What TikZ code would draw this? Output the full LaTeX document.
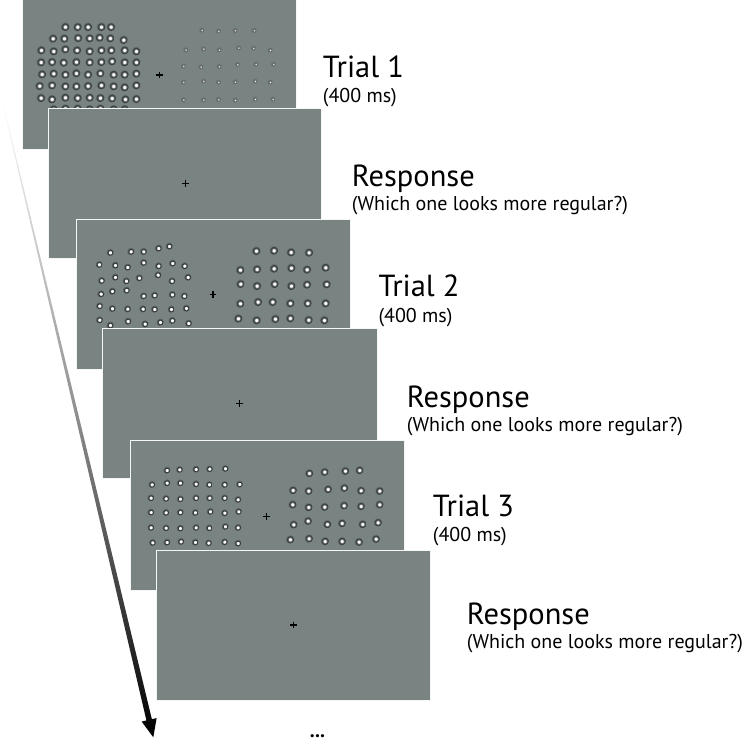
\documentclass[tikz,border=0pt]{standalone}
\usepackage{fontspec}
\setmainfont{PT Sans}
\definecolor{bgc}{RGB}{121,131,130}
\definecolor{ringc}{RGB}{48,54,54}
\pgfdeclareradialshading{dotsh}{\pgfpoint{0bp}{0bp}}{color(0bp)=(white); color(8bp)=(white); color(13bp)=(ringc); color(17bp)=(ringc); color(25bp)=(bgc); color(50bp)=(bgc)}
\tikzset{
  screen/.style={fill=bgc, draw=white!92!bgc, line width=0.9pt},
  fix/.style={draw=black, line width=1.1pt},
  title/.style={anchor=base west, inner sep=0pt, font=\fontsize{30.5}{30.5}\selectfont},
  subt/.style={anchor=base west, inner sep=0pt, font=\fontsize{20}{20}\selectfont},
}
\newcommand\stimdots[2]{\foreach \px/\py in {#2} {\shade[shading=dotsh] (\px,\py) circle (#1);}}
\newcommand\fixat[2]{\draw[fix] (#1,#2) +(-3.4,0) -- +(3.4,0) +(0,-3.4) -- +(0,3.4);}
\begin{document}
\begin{tikzpicture}[x=1pt,y=-1pt]
\useasboundingbox (0,0) rectangle (750,742);
\clip (0,0) rectangle (750,742);
% arrow
\shade[top color=white, bottom color=black, middle color=black!45]
  (2.39,99.91) -- (151.86,719.15) -- (156.64,718.07) -- (153.3,737.3) -- (141.64,721.53) -- (146.42,720.45) -- (1.61,100.09) -- cycle;
% screen A : Trial 1
\path[screen] (22.7,-1) rectangle ++(273.5,150.3);
\stimdots{4.6}{65/26.7, 77.3/26.7, 87.7/26.7, 101/26.7, 110.7/26.7,
52.7/38.3, 64/38.3, 77.7/37.7, 89.3/38, 99.3/37.3, 110/38, 123.3/39.7,
41/50, 53.3/51, 65/49, 76.7/50, 89.3/51, 101/50, 111/50, 124.3/50, 136/51,
40.7/62, 51.7/61.7, 63.3/62.3, 76/61.7, 89.3/62, 101/61.7, 111.7/61, 124.3/62, 136/62,
41.7/74, 53.3/73.3, 65/74.3, 76/73, 87.7/74.3, 100/73, 113.3/74.3, 124.3/74.3, 136/73.3,
39.3/85.7, 51.7/85, 65/86, 76/86, 87.7/85.7, 101/85, 113.3/86, 124.3/87, 136/85,
40.7/97.7, 51.7/99, 65/97.3, 77.3/97.7, 89.3/97.3, 100/97.7, 111.7/98, 125/99, 136/98.7,
53.3/109, 65/108.3, 77.3/108.3, 89.3/109, 100/108.3, 113.3/109, 124.3/109}
\stimdots{2.7}{201.7/30, 218.3/31, 235/30.3, 254/30.3,
185.7/49.7, 203.3/48.7, 219/49.7, 238.3/47.7, 253.3/48, 270/50,
183.3/66, 200.7/66.7, 219/66.3, 237.3/64.3, 255.7/64, 273.3/64,
183.3/82, 203.3/81, 218.3/82, 235/81.7, 255/81, 270/82,
183.3/99.7, 203.3/99.7, 218.3/99.3, 235/100, 255/99, 272.7/99}
\fixat{159.3}{75}
% screen B : Response
\path[screen] (48.3,108.3) rectangle ++(273.5,150);
\fixat{185.3}{183.3}
% screen C : Trial 2
\path[screen] (76,219.3) rectangle ++(274.5,150);
\stimdots{3.8}{110/252.3, 130.7/251.3, 143.3/251.3, 158.3/248, 169/246,
99/264.3, 115/265, 127.3/267, 143.3/262.3, 158.3/265.7, 172.3/263, 184.3/265.7,
101.3/280.3, 115/277, 126/280.7, 139/277.7, 157.7/274.7, 171.7/280.7, 187.7/277,
100.7/293.7, 112/291, 126.3/290, 143.3/295.7, 154.3/295, 172/294.3, 184/295.7,
99.3/305.7, 112/308.3, 127.3/308.7, 142.7/308.7, 154.3/309, 171/309, 186/308,
99.3/319.7, 110/325, 127.7/321, 144.7/323.7, 160/322, 172/320.3, 188.3/323}
\stimdots{4.6}{256/250.7, 273.7/250.3, 290.7/252, 308.7/252.3,
240/269.7, 256.7/269, 273.7/268.3, 291/267.7, 306.7/269.3, 325.3/267.3,
240.3/283.7, 256.7/285.7, 274.3/283.7, 291/285.7, 306.7/284.3, 326.3/284,
240/303.3, 257.7/301.7, 272.3/301.7, 290/303, 307.3/303, 325.3/303,
238/318.3, 256.3/320, 275/318.7, 290/318, 308.3/319.7, 324/320}
\fixat{213}{294.5}
% screen D : Response
\path[screen] (102.7,328.3) rectangle ++(274.6,150);
\fixat{239.7}{403.3}
% screen E : Trial 3
\path[screen] (130,440.7) rectangle ++(274,150);
\stimdots{3.7}{166.7/470, 179.3/469.3, 195.7/469, 209.3/468.7, 225/468.3,
151.7/484.3, 166.7/482.7, 180/482.7, 195.7/483.7, 209/484.3, 224.3/484.3, 239.3/484,
150.7/497.7, 165.7/498.3, 180/498.7, 195.7/497.7, 209.3/497.7, 224.3/497.7, 237.7/499.3,
150.7/512, 165.7/512.3, 180/512, 195/512.3, 210/511.3, 224.3/512.7, 238.3/511.3,
150.7/527.3, 165.7/527.7, 180/528, 195.7/527.3, 209/527.7, 225/526.3, 237.7/527.3,
152.3/542.3, 166.7/542, 180.7/541.3, 195/542, 208.3/542.7, 224.3/541.7, 237.7/543}
\stimdots{4.4}{309/473, 324.3/471.7, 345/470.7, 359.3/470,
292.7/490, 308.3/490.7, 327.7/489, 344/487.7, 360.7/490.3, 379.3/490.7,
292.3/504.3, 308.3/507, 324.3/506.7, 343.7/505.3, 360.7/506, 379.3/504.3,
293.3/524.3, 307.7/520.7, 327/524, 341.7/523, 362.3/524, 377.7/522.3,
290/539.3, 308.7/538.3, 324.7/541, 341.7/541, 358.7/541.7, 375.7/538.7}
\fixat{266.5}{516.5}
% screen F : Response
\path[screen] (156.7,550) rectangle ++(273.5,150);
\fixat{293.5}{625}
% labels
\node[title] (t1) at (322.7,77.3) {Trial 1};
\node[subt] (t1s) at (322.7,102.3) {(400 ms)};
\node[title] (r1) at (351.7,186.7) {Response};
\node[subt] (r1s) at (351.7,210.7) {(Which one looks more regular?)};
\node[title] (t2) at (378.3,296.7) {Trial 2};
\node[subt] (t2s) at (378.3,322) {(400 ms)};
\node[title] (r2) at (406.7,407.3) {Response};
\node[subt] (r2s) at (406.7,431.7) {(Which one looks more regular?)};
\node[title] (t3) at (432.7,516) {Trial 3};
\node[subt] (t3s) at (432.7,541) {(400 ms)};
\node[title] (r3) at (466.7,624.3) {Response};
\node[subt] (r3s) at (466.7,648.3) {(Which one looks more regular?)};
\node[anchor=base, inner sep=0pt, font=\fontsize{20}{20}\selectfont\bfseries] (ell) at (317.5,737.5) {...};
\end{tikzpicture}
\end{document}
